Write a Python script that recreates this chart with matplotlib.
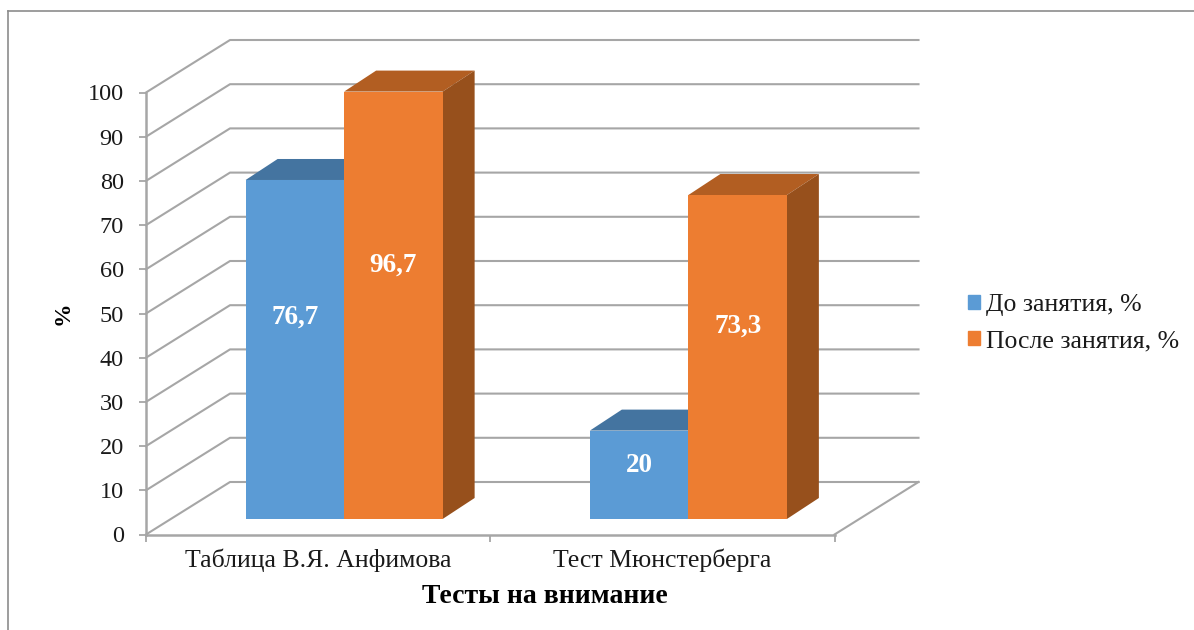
import matplotlib
matplotlib.use("Agg")
import matplotlib.pyplot as plt
from matplotlib.lines import Line2D
from matplotlib.patches import Polygon, Rectangle

# Data
categories = ['Таблица В.Я. Анфимова', 'Тест Мюнстерберга']
before = [76.7, 20]
after = [96.7, 73.3]
before_labels = ['76,7', '20']
after_labels = ['96,7', '73,3']
y_ticks = list(range(0, 101, 10))
series_names = ['До занятия, %', 'После занятия, %']

W, H = 1194, 630
plt.rcParams['font.family'] = ['Liberation Serif', 'DejaVu Serif']

fig = plt.figure(figsize=(W / 100, H / 100), dpi=100)
# front plane of the plot box, in pixels
x0, x1, y0, y1 = 146, 834.5, 534.5, 92.5
ax = fig.add_axes([x0 / W, 1 - y0 / H, (x1 - x0) / W, (y0 - y1) / H])
ax.set_xlim(0, 2)
ax.set_ylim(0, 100)

# pixel sizes turned into data units
ux = 2 / (x1 - x0)
uy = 100 / (y0 - y1)
wall_dx, wall_dy = 84 * ux, 52.5 * uy    # depth of the back wall
floor_dx, floor_dy = 26 * ux, 15.5 * uy  # bar front plane behind the axis
bar_dx, bar_dy = 32 * ux, 21 * uy        # depth of a bar
bar_w = 98.5 * ux

grid = '#a6a6a6'
for v in y_ticks:
    ax.plot([0, wall_dx, 2 + wall_dx], [v, v + wall_dy, v + wall_dy],
            color=grid, lw=1.5, clip_on=False, zorder=1)
ax.plot([2, 2 + wall_dx], [0, wall_dy], color=grid, lw=1.5, clip_on=False, zorder=1)


def draw_bar(left, value, front, top, side):
    base = floor_dy
    ax.bar(left, value, bar_w, bottom=base, align='edge', color=front, zorder=3, clip_on=False)
    right = left + bar_w
    roof = value + base
    ax.add_patch(Polygon([(left, roof), (left + bar_dx, roof + bar_dy),
                          (right + bar_dx, roof + bar_dy), (right, roof)],
                         color=top, lw=0, zorder=2, clip_on=False))
    ax.add_patch(Polygon([(right, base), (right + bar_dx, base + bar_dy),
                          (right + bar_dx, roof + bar_dy), (right, roof)],
                         color=side, lw=0, zorder=2, clip_on=False))


def label_y(value):
    # the labels sit above the middle of the bars in the original
    return 0.59 * value + 3.9


blue = ('#5b9bd5', '#4474a0', '#3a6a94')
orange = ('#ed7d31', '#b25e22', '#97501c')
for i in range(len(categories)):
    centre = i + 0.5 + floor_dx
    # the blue bar goes first so the orange one sits over its top and side
    draw_bar(centre - bar_w, before[i], *blue)
    draw_bar(centre, after[i], *orange)
    ax.text(centre - bar_w / 2, label_y(before[i]), before_labels[i], color='white',
            fontsize=19.5, fontweight='bold', ha='center', va='center', zorder=5)
    ax.text(centre + bar_w / 2, label_y(after[i]), after_labels[i], color='white',
            fontsize=19.5, fontweight='bold', ha='center', va='center', zorder=5)

for s in ['top', 'right']:
    ax.spines[s].set_visible(False)
for s in ['left', 'bottom']:
    ax.spines[s].set_color(grid)
    ax.spines[s].set_linewidth(1.8)
ax.set_yticks(y_ticks)
ax.set_xticks([0, 1, 2])
ax.set_xticklabels([])
ax.set_xticks([0.5, 1.5], minor=True)
ax.set_xticklabels(categories, minor=True)
ax.tick_params(axis='x', which='major', length=5, color=grid, width=1.3)
ax.tick_params(axis='x', which='minor', length=0, pad=10, labelsize=18.5, labelcolor='#1a1a1a')
ax.tick_params(axis='y', length=5, color=grid, width=1.3, pad=11, labelsize=17.5, labelcolor='#1a1a1a')
ax.patch.set_alpha(0)

ax.set_xlabel('Тесты на внимание', fontsize=20, fontweight='bold', labelpad=9, x=0.579)
ax.set_ylabel('%', fontsize=17, fontweight='bold', labelpad=10)

handles = [Rectangle((0, 0), 1, 1, color=blue[0]), Rectangle((0, 0), 1, 1, color=orange[0])]
fig.legend(handles, series_names, loc='center left', bbox_to_anchor=(968 / W, 1 - 323.5 / H),
           frameon=False, fontsize=18.5, handlelength=0.47, handleheight=0.47, handletextpad=0.25,
           labelspacing=0.55, labelcolor='#1a1a1a', borderpad=0, borderaxespad=0)

# only the top and left edges of the outer frame show in the original
frame = '#8c8c8c'
fig.add_artist(Line2D([7.5 / W, 7.5 / W], [0, 1 - 10.5 / H], color=frame, lw=1.2))
fig.add_artist(Line2D([7.5 / W, 1], [1 - 10.5 / H, 1 - 10.5 / H], color=frame, lw=1.2))

fig.savefig('out.png', dpi=100)
